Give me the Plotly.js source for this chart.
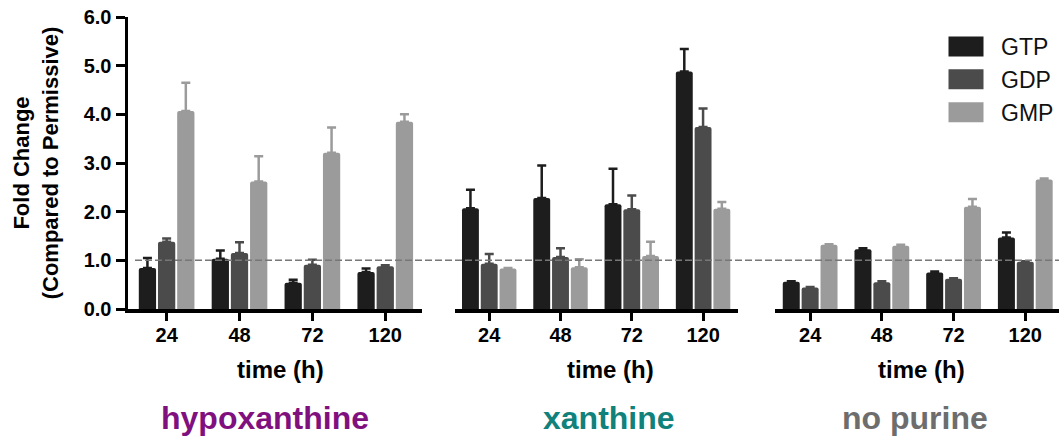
<!DOCTYPE html>
<html>
<head>
<meta charset="utf-8">
<script src="https://cdn.plot.ly/plotly-3.0.1.min.js"></script>
<style>html,body{margin:0;padding:0;background:#fff;}#chart{width:1059px;height:439px;}</style>
</head>
<body>
<div id="chart"></div>
<script>
const hours = ['24', '48', '72', '120'];
const seriesNames = ['GTP', 'GDP', 'GMP'];
const seriesColors = ['#1d1d1d', '#4b4b4b', '#9b9b9b'];
const panelNames = ['hypoxanthine', 'xanthine', 'no purine'];
const panelColors = ['#81107f', '#10817b', '#6d6d6d'];

// hypoxanthine
const hypoGTP = [0.84, 1.03, 0.54, 0.76];
const hypoGTPerr = [0.21, 0.17, 0.06, 0.07];
const hypoGDP = [1.38, 1.15, 0.91, 0.88];
const hypoGDPerr = [0.07, 0.22, 0.10, 0.02];
const hypoGMP = [4.07, 2.62, 3.21, 3.85];
const hypoGMPerr = [0.58, 0.52, 0.52, 0.15];
// xanthine
const xanGTP = [2.07, 2.28, 2.15, 4.88];
const xanGTPerr = [0.38, 0.67, 0.73, 0.46];
const xanGDP = [0.93, 1.07, 2.05, 3.74];
const xanGDPerr = [0.20, 0.18, 0.28, 0.38];
const xanGMP = [0.83, 0.86, 1.09, 2.06];
const xanGMPerr = [0.01, 0.16, 0.29, 0.14];
// no purine
const nopGTP = [0.56, 1.23, 0.75, 1.47];
const nopGTPerr = [0.01, 0.02, 0.02, 0.10];
const nopGDP = [0.44, 0.55, 0.62, 0.97];
const nopGDPerr = [0.01, 0.02, 0.01, 0.01];
const nopGMP = [1.32, 1.30, 2.10, 2.66];
const nopGMPerr = [0.01, 0.02, 0.16, 0.02];

const panels = [
  [[hypoGTP, hypoGTPerr], [hypoGDP, hypoGDPerr], [hypoGMP, hypoGMPerr]],
  [[xanGTP, xanGTPerr], [xanGDP, xanGDPerr], [xanGMP, xanGMPerr]],
  [[nopGTP, nopGTPerr], [nopGDP, nopGDPerr], [nopGMP, nopGMPerr]]
];

const FONT = 'Liberation Sans, Arial, sans-serif';
const axisNames = ['x', 'x2', 'x3'];
const data = [];
panels.forEach((panel, p) => {
  panel.forEach((s, i) => {
    data.push({
      type: 'bar',
      name: seriesNames[i],
      x: hours,
      y: s[0],
      xaxis: axisNames[p],
      yaxis: 'y',
      legendgroup: seriesNames[i],
      showlegend: p === 0,
      marker: {color: seriesColors[i], line: {width: 0}, cornerradius: 2},
      error_y: {
        type: 'data', array: s[1], symmetric: false,
        arrayminus: s[1].map(() => 0),
        color: seriesColors[i], thickness: 2.5, width: 4.5
      },
      hoverinfo: 'none'
    });
  });
});

const W = 1059, H = 439, L = 128, R = 0, T = 17, B = 130;
const PW = W - L - R, PH = H - T - B;
const px2x = v => (v - L) / PW;
const px2y = v => (H - B - v) / PH;

const xaxisBase = {
  type: 'category',
  categoryorder: 'array',
  categoryarray: hours,
  showline: true, linewidth: 4, linecolor: '#000',
  ticks: 'outside', ticklen: 8, tickwidth: 3, tickcolor: '#000',
  ticklabelstandoff: -3,
  tickfont: {family: FONT, size: 20, color: '#000', weight: 700},
  showgrid: false, zeroline: false, anchor: 'y', fixedrange: true
};

const annotations = [];
const titleX = [280.5, 610, 921];
const labelX = [264.6, 609, 915];
for (let p = 0; p < 3; p++) {
  annotations.push({
    text: 'time (h)', xref: 'paper', yref: 'paper',
    x: px2x(titleX[p]), y: px2y(369.5), xanchor: 'center', yanchor: 'middle',
    showarrow: false, font: {family: FONT, size: 24, color: '#000', weight: 700}
  });
  annotations.push({
    text: panelNames[p], xref: 'paper', yref: 'paper',
    x: px2x(labelX[p]), y: px2y(418), xanchor: 'center', yanchor: 'middle',
    showarrow: false, font: {family: FONT, size: 32, color: panelColors[p], weight: 700}
  });
}

const layout = {
  width: W, height: H,
  margin: {l: L, r: R, t: T, b: B, pad: 0},
  paper_bgcolor: '#fff', plot_bgcolor: '#fff',
  barmode: 'group', bargap: 0.21, bargroupgap: 0.1,
  font: {family: FONT, color: '#000'},
  xaxis: Object.assign({}, xaxisBase, {domain: [0, px2x(421.7)], range: [-0.53, 3.5]}),
  xaxis2: Object.assign({}, xaxisBase, {domain: [px2x(455), px2x(738)], range: [-0.48, 3.49]}),
  xaxis3: Object.assign({}, xaxisBase, {domain: [px2x(775), 1], range: [-0.49, 3.47]}),
  yaxis: {
    range: [0, 6], tick0: 0, dtick: 1, tickformat: '.1f',
    showline: true, linewidth: 3.5, linecolor: '#000',
    ticks: 'outside', ticklen: 9, tickwidth: 3, tickcolor: '#000',
    tickfont: {family: FONT, size: 20, color: '#000', weight: 700},
    showgrid: false, zeroline: false, anchor: 'x', fixedrange: true,
    title: {
      text: 'Fold Change<br>(Compared to Permissive)', standoff: 20,
      font: {family: FONT, size: 22, color: '#000', weight: 700}
    }
  },
  showlegend: true,
  legend: {
    x: px2x(961), y: px2y(25), xanchor: 'left', yanchor: 'top',
    bgcolor: 'rgba(0,0,0,0)', borderwidth: 0,
    tracegroupgap: 0, itemclick: false, itemdoubleclick: false,
    font: {family: FONT, size: 23, color: '#111'}
  },
  shapes: [{
    type: 'line', xref: 'paper', yref: 'y',
    x0: px2x(135), x1: 1, y0: 1, y1: 1,
    line: {color: '#777', width: 1.5, dash: '7px,3px'},
    layer: 'above'
  }],
  annotations: annotations
};

function bigSwatches(gd) {
  gd.querySelectorAll('.legend [clip-path]').forEach(e => e.removeAttribute('clip-path'));
  gd.querySelectorAll('.legend .legendpoints path').forEach(p => {
    p.setAttribute('d', 'M-12.5,-10H22.5V10H-12.5Z');
    p.removeAttribute('transform');
  });
}

Plotly.newPlot('chart', data, layout, {staticPlot: true, displayModeBar: false}).then(gd => {
  bigSwatches(gd);
  gd.on('plotly_afterplot', () => bigSwatches(gd));
  setTimeout(() => bigSwatches(gd), 50);
});
</script>
</body>
</html>
